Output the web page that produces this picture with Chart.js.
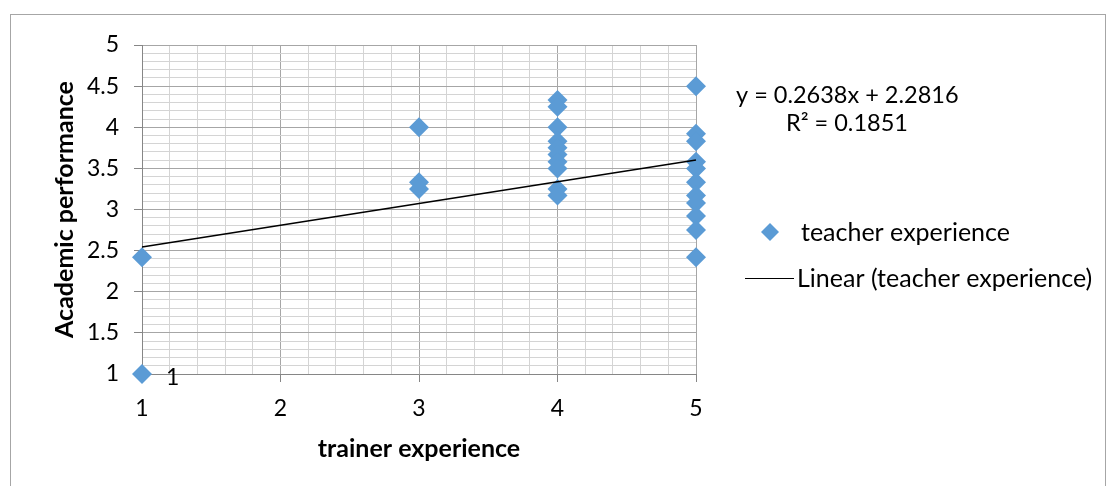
<!DOCTYPE html>
<html>
<head>
<meta charset="utf-8">
<script src="https://cdn.jsdelivr.net/npm/chart.js@4/dist/chart.umd.min.js"></script>
<style>
  html, body { margin: 0; padding: 0; background: #fff; }
  #wrap { position: relative; width: 1112px; height: 486px; }
</style>
</head>
<body>
<div id="wrap"><canvas id="chart" width="1112" height="486"></canvas></div>
<script>
// trainer experience (x) for each point
const xValues = [1, 1,
    3, 3, 3,
    4, 4, 4, 4, 4, 4, 4, 4, 4, 4,
    5, 5, 5, 5, 5, 5, 5, 5, 5, 5, 5];
// academic performance (y) for each point
const yValues = [2.42, 1.0,
    4.0, 3.33, 3.25,
    4.33, 4.25, 4.0, 3.83, 3.75, 3.67, 3.58, 3.5, 3.25, 3.17,
    4.5, 3.92, 3.83, 3.58, 3.5, 3.33, 3.17, 3.08, 2.92, 2.75, 2.42];

// trendline as printed on the chart
const slope = 0.2638;
const intercept = 2.2816;
const rSquared = 0.1851;

const xTicks = [1, 2, 3, 4, 5];
const yTicks = [1, 1.5, 2, 2.5, 3, 3.5, 4, 4.5, 5];

const seriesName = 'teacher experience';
const trendName = 'Linear (teacher experience)';

const FONT = 'Lato, "Liberation Sans", sans-serif';
const blue = '#5b9bd5';

// build point list for the scatter
const points = xValues.map((x, i) => ({ x: x, y: yValues[i] }));
const trendPoints = [1, 5].map(x => ({ x: x, y: slope * x + intercept }));

function isMajor(v, list) {
    return list.some(t => Math.abs(t - v) < 1e-6);
}

// draws frame, equation, data label and legend
const extras = {
    id: 'extras',
    afterDraw(c) {
        const ctx = c.ctx;
        const xs = c.scales.x, ys = c.scales.y;
        ctx.save();
        // outer frame
        ctx.strokeStyle = '#a6a6a6';
        ctx.lineWidth = 1;
        ctx.strokeRect(10.5, 14.5, 1095, 480);

        ctx.fillStyle = '#000';
        ctx.textBaseline = 'middle';
        ctx.textAlign = 'left';
        // equation
        ctx.font = '23.5px ' + FONT;
        ctx.fillText('y = ' + slope + 'x + ' + intercept, 736, 95);
        ctx.fillText('R² = ' + rSquared, 786, 123);

        // data label next to the (1,1) point
        ctx.font = '23px ' + FONT;
        ctx.fillText('1', xs.getPixelForValue(1) + 24, ys.getPixelForValue(1) + 4);

        // legend
        ctx.fillStyle = blue;
        const lx = 770, ly = 232, r = 9;
        ctx.beginPath();
        ctx.moveTo(lx - r, ly);
        ctx.lineTo(lx, ly - r);
        ctx.lineTo(lx + r, ly);
        ctx.lineTo(lx, ly + r);
        ctx.closePath();
        ctx.fill();
        ctx.fillStyle = '#000';
        ctx.font = '25px ' + FONT;
        ctx.fillText(seriesName, 801, 233);

        ctx.strokeStyle = '#000';
        ctx.lineWidth = 1.2;
        ctx.beginPath();
        ctx.moveTo(745, 278.5);
        ctx.lineTo(794, 278.5);
        ctx.stroke();
        ctx.fillText(trendName, 797, 279);
        ctx.restore();
    }
};

const ctx = document.getElementById('chart');
const chart = new Chart(ctx, {
    type: 'scatter',
    data: {
        datasets: [{
            label: seriesName,
            data: points,
            backgroundColor: blue,
            borderWidth: 0,
            pointStyle: 'rectRot',
            pointRadius: 10,
            clip: false,
            order: 1
        }, {
            label: trendName,
            type: 'line',
            data: trendPoints,
            borderColor: '#000',
            borderWidth: 1.5,
            pointRadius: 0,
            fill: false,
            clip: false,
            order: 0
        }]
    },
    options: {
        responsive: false,
        animation: false,
        layout: { padding: { left: 50, top: 45, right: 416, bottom: 22 } },
        plugins: {
            legend: { display: false },
            tooltip: { enabled: false }
        },
        scales: {
            x: {
                type: 'linear',
                min: 1,
                max: 5,
                afterFit: s => { s.height = 90; },
                ticks: {
                    stepSize: 0.2,
                    maxTicksLimit: 100,
                    autoSkip: false,
                    maxRotation: 0,
                    padding: 13,
                    color: '#000',
                    font: { family: FONT, size: 23 },
                    callback: v => isMajor(v, xTicks) ? String(Math.round(v)) : ''
                },
                grid: {
                    color: c => isMajor(c.tick.value, xTicks) ? '#a6a6a6' : '#d4d4d4',
                    tickColor: c => isMajor(c.tick.value, xTicks) ? '#868686' : 'rgba(0,0,0,0)',
                    tickLength: 8,
                    lineWidth: 1
                },
                border: { color: '#868686' },
                title: {
                    display: true,
                    text: 'trainer experience',
                    color: '#000',
                    font: { family: FONT, size: 25, weight: 'bold' },
                    padding: { top: 0, bottom: 0 }
                }
            },
            y: {
                min: 1,
                max: 5,
                afterFit: s => { s.width = 92; },
                ticks: {
                    stepSize: 0.1,
                    maxTicksLimit: 100,
                    autoSkip: false,
                    padding: 15,
                    color: '#000',
                    font: { family: FONT, size: 23 },
                    callback: v => isMajor(v, yTicks) ? String(Math.round(v * 10) / 10) : ''
                },
                grid: {
                    color: c => isMajor(c.tick.value, yTicks) ? '#a6a6a6' : '#d4d4d4',
                    tickColor: c => isMajor(c.tick.value, yTicks) ? '#868686' : 'rgba(0,0,0,0)',
                    tickLength: 8,
                    lineWidth: 1
                },
                border: { color: '#868686' },
                title: {
                    display: true,
                    text: 'Academic performance',
                    color: '#000',
                    font: { family: FONT, size: 25, weight: 'bold' },
                    padding: 0
                }
            }
        }
    },
    plugins: [extras]
});
</script>
</body>
</html>
